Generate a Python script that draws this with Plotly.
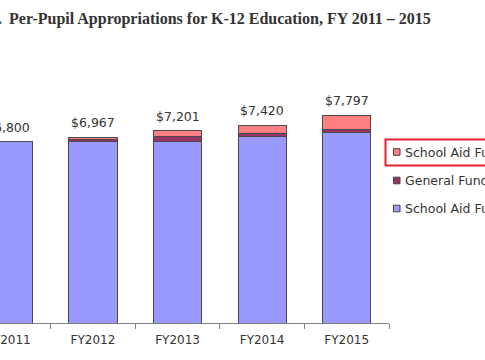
import plotly.graph_objects as go

categories = ["FY2011", "FY2012", "FY2013", "FY2014", "FY2015"]
totals = [6800, 6967, 7201, 7420, 7797]
total_labels = ["$6,800", "$6,967", "$7,201", "$7,420", "$7,797"]
school_aid_base = [6800, 6820, 6815, 7000, 7150]
general_fund = [0, 80, 170, 95, 90]
school_aid_other = [0, 67, 216, 325, 557]

series_names = ["School Aid Fund (One-Time)", "General Fund", "School Aid Fund (Ongoing)"]
series_colors = ["#ff8080", "#993366", "#9999ff"]

W, H = 485, 360
ML, MR, MT, MB = 0, 96, 83, 37
PW = W - ML - MR
PH = H - MT - MB
FONT = "DejaVu Sans"


def px_x(x):
    return (x - ML) / PW


def px_y(y):
    return (H - MB - y) / PH


fig = go.Figure()
for vals, name, color in [
    (school_aid_base, series_names[2], series_colors[2]),
    (general_fund, series_names[1], series_colors[1]),
    (school_aid_other, series_names[0], series_colors[0]),
]:
    fig.add_trace(go.Bar(
        x=categories, y=vals, name=name, showlegend=False,
        marker=dict(color=color, line=dict(color="#4a4a4a", width=1)),
        hoverinfo="skip",
    ))

annotations = []
for c, t, lab in zip(categories, totals, total_labels):
    annotations.append(dict(
        x=c, y=t, xref="x", yref="y", text=lab, showarrow=False,
        yanchor="bottom", yshift=5,
        font=dict(family=FONT, size=12.5, color="#333333"),
    ))

# title
annotations.append(dict(
    x=px_x(4), y=px_y(19), xref="paper", yref="paper",
    text="<b>Figure 1.</b>", showarrow=False, xanchor="right", yanchor="middle",
    font=dict(family="Liberation Serif", size=16, color="#333333"),
))
annotations.append(dict(
    x=px_x(7), y=px_y(19), xref="paper", yref="paper",
    text="<b>Per-Pupil Appropriations for K-12 Education, FY 2011 \u2013 2015</b>",
    showarrow=False, xanchor="left", yanchor="middle",
    font=dict(family="Liberation Serif", size=16, color="#333333"),
))

shapes = []
legend_y = [152, 180.5, 208.5]
for name, color, ly in zip(series_names, series_colors, legend_y):
    shapes.append(dict(
        type="rect", xref="paper", yref="paper",
        x0=px_x(393.5), x1=px_x(400), y0=px_y(ly + 3.3), y1=px_y(ly - 3.3),
        fillcolor=color, line=dict(color="#444444", width=1),
    ))
    annotations.append(dict(
        x=px_x(403), y=px_y(ly), xref="paper", yref="paper", text=name,
        showarrow=False, xanchor="left", yanchor="middle",
        font=dict(family=FONT, size=12.5, color="#333333"),
    ))

shapes.append(dict(
    type="rect", xref="paper", yref="paper",
    x0=px_x(385.5), x1=px_x(500), y0=px_y(165.5), y1=px_y(139.5),
    line=dict(color="#e3212f", width=2), fillcolor="rgba(0,0,0,0)",
))

fig.update_layout(
    width=W, height=H,
    margin=dict(l=ML, r=MR, t=MT, b=MB, autoexpand=False),
    barmode="stack", bargap=0.43,
    plot_bgcolor="white", paper_bgcolor="white",
    annotations=annotations, shapes=shapes,
    showlegend=False,
    xaxis=dict(
        type="category", range=[-0.099, 4.5],
        showline=True, linecolor="#808080", linewidth=1,
        ticks="outside", tickson="boundaries", ticklen=5, tickcolor="#808080",
        showgrid=False, ticklabeloverflow="allow", ticklabelstandoff=6,
        tickfont=dict(family=FONT, size=12, color="#333333"),
    ),
    yaxis=dict(range=[0, 9000], visible=False, showgrid=False),
)

fig.write_html(
    "out.html",
    config={"displayModeBar": False},
    post_script="document.body.style.margin='0';document.body.style.overflow='hidden';",
)
